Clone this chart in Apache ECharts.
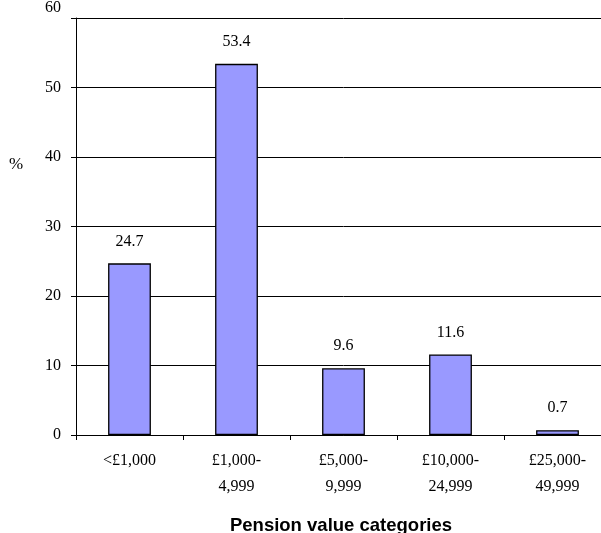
<!DOCTYPE html>
<html>
<head>
<meta charset="utf-8">
<script src="https://cdn.jsdelivr.net/npm/echarts@6/dist/echarts.min.js"></script>
<style>html,body{margin:0;padding:0;background:#fff;overflow:hidden;}#c{width:611px;height:533px;}</style>
</head>
<body>
<div id="c"></div>
<script>
const categories = ['<£1,000', '£1,000-\n4,999', '£5,000-\n9,999', '£10,000-\n24,999', '£25,000-\n49,999'];
const values = [24.7, 53.4, 9.6, 11.6, 0.7];
const yTicks = [0, 10, 20, 30, 40, 50, 60];

const chart = echarts.init(document.getElementById('c'), null, {renderer: 'canvas'});
const serif = '"Liberation Serif", "Times New Roman", serif';
chart.setOption({
  animation: false,
  backgroundColor: '#fff',
  grid: {left: 76, right: 0, top: 15, height: 420, containLabel: false},
  xAxis: {
    type: 'category',
    data: categories,
    axisLine: {lineStyle: {color: '#000', width: 1}},
    axisTick: {show: true, length: 5, lineStyle: {color: '#000'}},
    axisLabel: {fontFamily: serif, fontSize: 16, color: '#000', lineHeight: 26, margin: 13, interval: 0}
  },
  yAxis: {
    type: 'value',
    min: yTicks[0], max: yTicks[yTicks.length - 1], interval: 10,
    axisLine: {show: true, lineStyle: {color: '#000', width: 1}},
    axisTick: {show: true, length: 5, lineStyle: {color: '#000'}},
    axisLabel: {
      fontFamily: serif, fontSize: 16, color: '#000', margin: 15,
      formatter: v => v === 60 ? '{t|60}' : String(v),
      rich: {t: {fontFamily: serif, fontSize: 16, color: '#000', padding: [0, 0, 20, 0]}}
    },
    splitLine: {show: true, lineStyle: {color: '#000', width: 1}}
  },
  graphic: [
    {type: 'text', left: 9, top: 156, style: {text: '%', font: '17px ' + serif, fill: '#000'}},
    {type: 'text', x: 341, y: 516, style: {text: 'Pension value categories', textAlign: 'center', font: 'bold 18.5px "Liberation Sans", Arial, sans-serif', fill: '#000'}}
  ],
  series: [{
    type: 'bar',
    data: values,
    barWidth: '40%',
    itemStyle: {color: '#9999FF', borderColor: '#000', borderWidth: 1.3},
    label: {show: true, position: 'top', distance: 14, fontFamily: serif, fontSize: 16, color: '#000'}
  }]
});
</script>
</body>
</html>
